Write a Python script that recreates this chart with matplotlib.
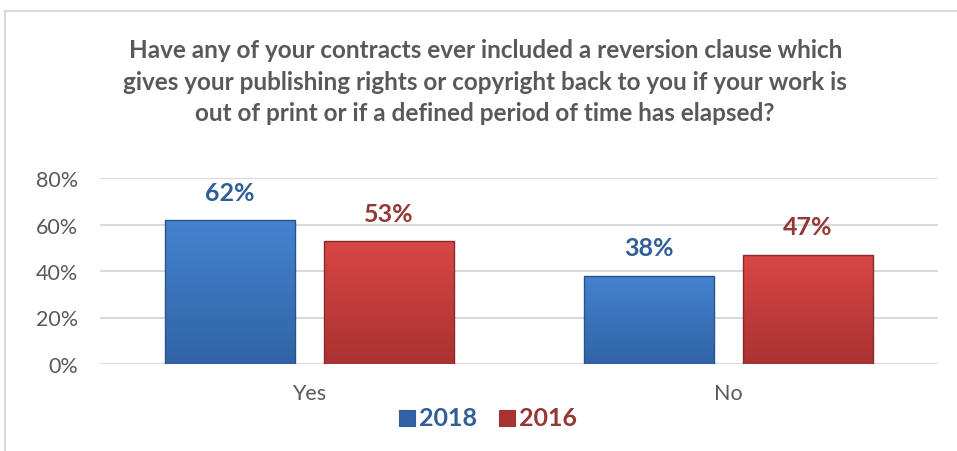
# reversion clause survey chart
import numpy as np
import matplotlib.pyplot as plt
from matplotlib.patches import Rectangle
from matplotlib.lines import Line2D
from matplotlib.colors import LinearSegmentedColormap

# data
categories = ['Yes', 'No']
years = ['2018', '2016']
vals_2018 = [62, 38]
vals_2016 = [53, 47]
yticks = [0, 20, 40, 60, 80]

title = ("Have any of your contracts ever included a reversion clause which\n"
         "gives your publishing rights or copyright back to you if your work is\n"
         "out of print or if a defined period of time has elapsed?")

# styles
plt.rcParams['font.family'] = ['Lato', 'DejaVu Sans']
grey = '#595959'
grid = '#d9d9d9'
blue_lbl = '#2f5f96'
red_lbl = '#953735'
blue_top, blue_bot = '#4582cf', '#3064a6'
red_top, red_bot = '#d84745', '#aa3230'

fig = plt.figure(figsize=(9.57, 4.52), dpi=100, facecolor='white')

# outer chart frame (left + top edges only visible)
fig.add_artist(Line2D([5/957, 5/957], [0, 1 - 12/452], color=grid, lw=1.5))
fig.add_artist(Line2D([5/957, 1], [1 - 12/452, 1 - 12/452], color=grid, lw=1.5))

ax = fig.add_axes([100/957, 1 - 365/452, 838/957, (365 - 179)/452])

x = np.arange(len(categories))
w = 0.31
off = 0.19


def grad_bars(xs, vals, top, bot, edge):
    bars = ax.bar(xs, vals, w, color='none', edgecolor=edge, lw=1.0, zorder=3)
    cmap = LinearSegmentedColormap.from_list('g', [bot, top])
    grad = np.linspace(0, 1, 100).reshape(-1, 1)
    for b in bars:
        x0, y0 = b.get_x(), b.get_y()
        im = ax.imshow(grad, cmap=cmap, origin='lower', aspect='auto',
                       extent=[x0, x0 + b.get_width(), y0, y0 + b.get_height()],
                       zorder=2)
        im.set_clip_path(b)
    return bars


grad_bars(x - off, vals_2018, blue_top, blue_bot, '#2a5487')
grad_bars(x + off, vals_2016, red_top, red_bot, '#8a2b29')

for xi, v in zip(x - off, vals_2018):
    ax.text(xi, v + 7, f'{v}%', ha='center', va='bottom', fontsize=18,
            fontweight='bold', color=blue_lbl)
for xi, v in zip(x + off, vals_2016):
    ax.text(xi, v + 7, f'{v}%', ha='center', va='bottom', fontsize=18,
            fontweight='bold', color=red_lbl)

ax.set_xlim(-0.5, 1.5)
ax.set_ylim(0, 80)
ax.set_yticks(yticks)
ax.set_yticklabels([f'{t}%' for t in yticks])
ax.set_xticks(x)
ax.set_xticklabels(categories)
ax.yaxis.grid(True, color=grid, lw=1.5)
ax.set_axisbelow(True)
for s in ax.spines.values():
    s.set_visible(False)
ax.tick_params(axis='both', length=0, labelsize=15.5, colors=grey)
ax.tick_params(axis='y', pad=16)
ax.tick_params(axis='x', pad=14)

fig.text(0.507, 1 - 39/452, title, ha='center', va='top', fontsize=17.5,
         fontweight='bold', color=grey, linespacing=1.45)

# legend
ly = 1 - 419/452
for lx, lab, top, bot, col in [(407, years[0], blue_top, blue_bot, blue_lbl),
                               (507, years[1], red_top, red_bot, red_lbl)]:
    fig.add_artist(Rectangle((lx/957 - 8/957, ly - 8/452), 16/957, 16/452,
                             facecolor=bot, edgecolor=col, lw=0.8,
                             transform=fig.transFigure))
    fig.text(lx/957 + 12/957, ly, lab, ha='left', va='center', fontsize=18,
             fontweight='bold', color=col)

fig.savefig('out.png', dpi=100, facecolor='white')
